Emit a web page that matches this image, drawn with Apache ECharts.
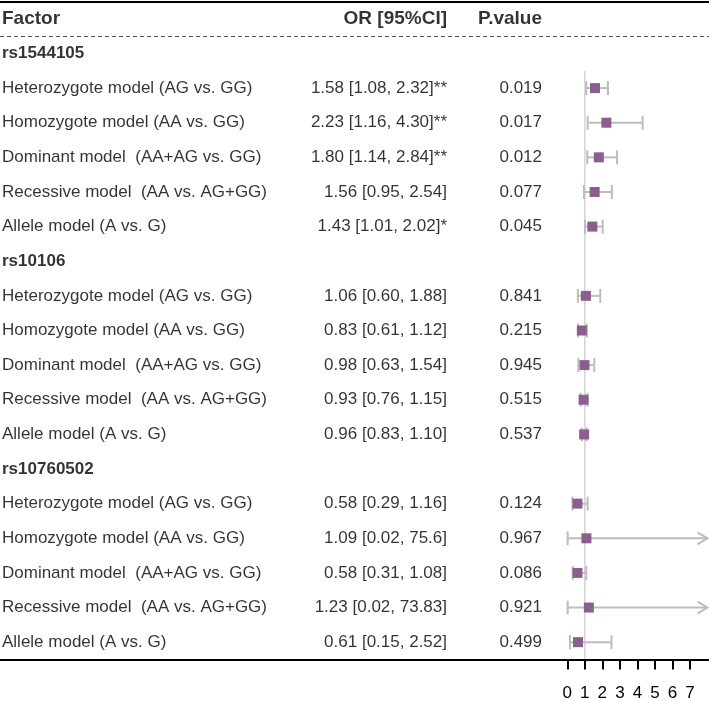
<!DOCTYPE html>
<html>
<head>
<meta charset="utf-8">
<script src="https://cdn.jsdelivr.net/npm/echarts@6/dist/echarts.min.js"></script>
<style>
  html, body { margin: 0; padding: 0; background: #fff; }
  #chart { width: 709px; height: 701px; }
</style>
</head>
<body>
<div id="chart"></div>
<script>
// data
const snps = ['rs1544105', 'rs10106', 'rs10760502']
const models = [
    'Heterozygote model (AG vs. GG)',
    'Homozygote model (AA vs. GG)',
    'Dominant model  (AA+AG vs. GG)',
    'Recessive model  (AA vs. AG+GG)',
    'Allele model (A vs. G)'
]
const orValue = [1.58, 2.23, 1.80, 1.56, 1.43, 1.06, 0.83, 0.98, 0.93, 0.96, 0.58, 1.09, 0.58, 1.23, 0.61]
const ciLower = [1.08, 1.16, 1.14, 0.95, 1.01, 0.60, 0.61, 0.63, 0.76, 0.83, 0.29, 0.02, 0.31, 0.02, 0.15]
const ciUpper = [2.32, 4.30, 2.84, 2.54, 2.02, 1.88, 1.12, 1.54, 1.15, 1.10, 1.16, 75.6, 1.08, 73.83, 2.52]
const orText = [
    '1.58 [1.08, 2.32]**', '2.23 [1.16, 4.30]**', '1.80 [1.14, 2.84]**', '1.56 [0.95, 2.54]', '1.43 [1.01, 2.02]*',
    '1.06 [0.60, 1.88]', '0.83 [0.61, 1.12]', '0.98 [0.63, 1.54]', '0.93 [0.76, 1.15]', '0.96 [0.83, 1.10]',
    '0.58 [0.29, 1.16]', '1.09 [0.02, 75.6]', '0.58 [0.31, 1.08]', '1.23 [0.02, 73.83]', '0.61 [0.15, 2.52]'
]
const pValue = [
    '0.019', '0.017', '0.012', '0.077', '0.045',
    '0.841', '0.215', '0.945', '0.515', '0.537',
    '0.124', '0.967', '0.086', '0.921', '0.499'
]
const headers = ['Factor', 'OR [95%CI]', 'P.value']
const xTicks = [0, 1, 2, 3, 4, 5, 6, 7]
const refValue = 1
const xMax = 8

// layout
const FONT = 'Liberation Sans, Arial, sans-serif'
const colFactor = 2
const colOR = 447
const colP = 542
const nRows = snps.length * (models.length + 1)

// row index of each data line
const dataRow = orValue.map((v, k) => Math.floor(k / models.length) * (models.length + 1) + (k % models.length) + 1)

let factorData = []
snps.forEach((s, g) => {
    factorData.push({ value: [colFactor, g * (models.length + 1)], name: s, bold: true })
    models.forEach((m, j) => {
        factorData.push({ value: [colFactor, g * (models.length + 1) + j + 1], name: m, bold: false })
    })
})

function textLabel(pos, bold, size) {
    return {
        show: true,
        position: pos,
        distance: 0,
        color: '#000',
        fontFamily: FONT,
        fontSize: size || 17,
        fontWeight: bold ? 'bold' : 'normal',
        formatter: p => p.name
    }
}

let myChart = echarts.init(document.getElementById('chart'), null, { renderer: 'canvas' })

myChart.setOption({
    animation: false,
    grid: [
        { left: 567.3, width: 140.2, top: 1.5, bottom: 41.5, containLabel: false, outerBoundsMode: 'none' },
        { left: 0, right: 0, top: 1.5, bottom: 41.5, containLabel: false, outerBoundsMode: 'none' }
    ],
    xAxis: [
        {
            gridIndex: 0,
            type: 'value',
            position: 'bottom',
            min: 0,
            max: xMax,
            interval: 1,
            axisLine: { show: false, onZero: false },
            splitLine: { show: false },
            axisTick: { show: true, customValues: xTicks, length: 10, lineStyle: { color: '#000', width: 2 } },
            axisLabel: { customValues: xTicks, margin: 25, color: '#000', fontSize: 17, fontFamily: FONT }
        },
        { gridIndex: 1, type: 'value', min: 0, max: 709, show: false }
    ],
    yAxis: [
        { gridIndex: 0, type: 'value', inverse: true, min: -1.5, max: nRows - 0.5, show: false },
        { gridIndex: 1, type: 'value', inverse: true, min: -1.5, max: nRows - 0.5, show: false }
    ],
    series: [
        {
            name: 'ref',
            type: 'line',
            xAxisIndex: 0,
            yAxisIndex: 0,
            symbol: 'none',
            z: 1,
            lineStyle: { color: '#d4d4d4', width: 1.5 },
            data: [[refValue, 0.5], [refValue, nRows - 0.5]]
        },
        {
            name: 'ci',
            type: 'custom',
            xAxisIndex: 0,
            yAxisIndex: 0,
            z: 2,
            data: ciLower.map((lo, k) => [lo, ciUpper[k], dataRow[k]]),
            renderItem: (params, api) => {
                const lo = api.value(0)
                const hi = api.value(1)
                const row = api.value(2)
                const a = api.coord([lo, row])
                const b = api.coord([Math.min(hi, xMax), row])
                const st = { stroke: '#bdbdbd', lineWidth: 2 }
                const cap = 7
                let kids = [
                    { type: 'line', shape: { x1: a[0], y1: a[1], x2: b[0], y2: b[1] }, style: st },
                    { type: 'line', shape: { x1: a[0], y1: a[1] - cap, x2: a[0], y2: a[1] + cap }, style: st }
                ]
                if (hi > xMax) {
                    kids.push({ type: 'polyline', shape: { points: [[b[0] - 10, b[1] - 6], [b[0], b[1]], [b[0] - 10, b[1] + 6]] }, style: Object.assign({ fill: 'none' }, st) })
                } else {
                    kids.push({ type: 'line', shape: { x1: b[0], y1: b[1] - cap, x2: b[0], y2: b[1] + cap }, style: st })
                }
                return { type: 'group', children: kids }
            }
        },
        {
            name: 'OR',
            type: 'scatter',
            xAxisIndex: 0,
            yAxisIndex: 0,
            symbol: 'rect',
            symbolSize: 10,
            z: 3,
            itemStyle: { color: '#8b5f8d', opacity: 1 },
            data: orValue.map((v, k) => [v, dataRow[k]])
        },
        {
            name: 'factor',
            type: 'scatter',
            xAxisIndex: 1,
            yAxisIndex: 1,
            symbolSize: 0,
            silent: true,
            data: factorData.map(d => ({ value: d.value, name: d.name, label: textLabel('right', d.bold) })),
            markLine: {
                silent: true,
                symbol: ['none', 'none'],
                label: { show: false },
                data: [
                    { yAxis: -1.5, lineStyle: { color: '#000', width: 2, type: 'solid' } },
                    { yAxis: -0.5, lineStyle: { color: '#555', width: 1, type: [4, 3] } },
                    { yAxis: nRows - 0.5, lineStyle: { color: '#000', width: 2, type: 'solid' } }
                ]
            }
        },
        {
            name: 'header',
            type: 'scatter',
            xAxisIndex: 1,
            yAxisIndex: 1,
            symbolSize: 0,
            silent: true,
            data: [
                { value: [colFactor, -1], name: headers[0], label: textLabel('right', true, 19) },
                { value: [colOR, -1], name: headers[1], label: textLabel('left', true, 19) },
                { value: [colP, -1], name: headers[2], label: textLabel('left', true, 19) }
            ]
        },
        {
            name: 'orText',
            type: 'scatter',
            xAxisIndex: 1,
            yAxisIndex: 1,
            symbolSize: 0,
            silent: true,
            label: textLabel('left', false),
            data: orText.map((t, k) => ({ value: [colOR, dataRow[k]], name: t }))
        },
        {
            name: 'pValue',
            type: 'scatter',
            xAxisIndex: 1,
            yAxisIndex: 1,
            symbolSize: 0,
            silent: true,
            label: textLabel('left', false),
            data: pValue.map((t, k) => ({ value: [colP, dataRow[k]], name: t }))
        }
    ]
})

window.addEventListener('resize', () => {
    myChart.resize()
})
</script>
</body>
</html>
